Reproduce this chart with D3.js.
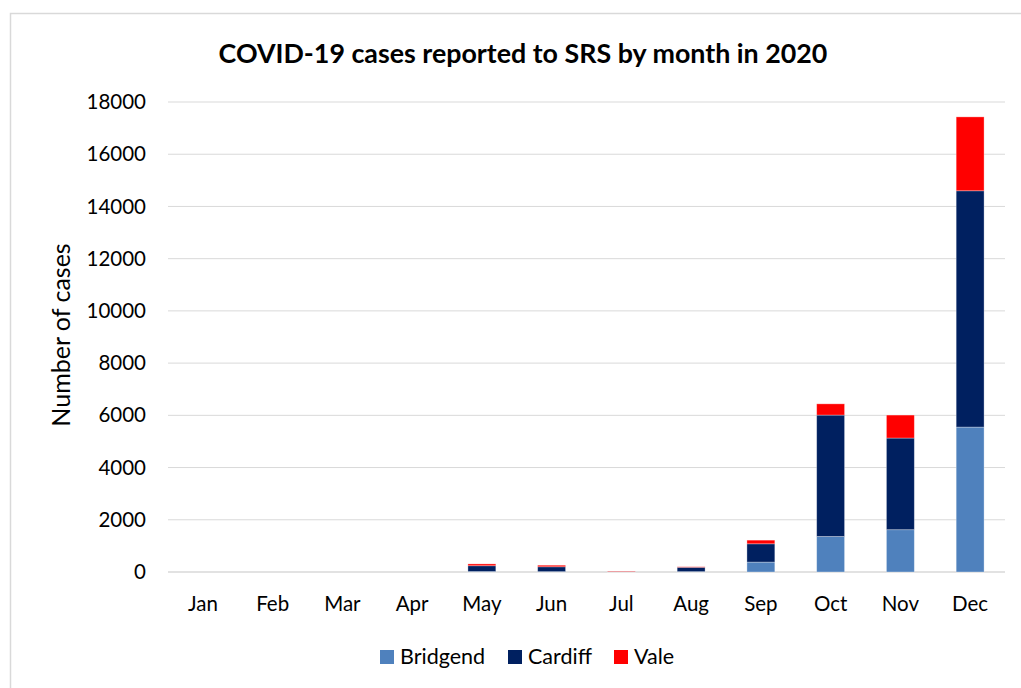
<!DOCTYPE html>
<html>
<head>
<meta charset="utf-8">
<script src="https://cdn.jsdelivr.net/npm/d3@7"></script>
<style>
  body { margin: 0; background: #fff; }
  text { font-family: Lato, "Open Sans", sans-serif; fill: #000; }
</style>
</head>
<body>
<svg width="1021" height="688"></svg>
<script>
const months = ["Jan", "Feb", "Mar", "Apr", "May", "Jun", "Jul", "Aug", "Sep", "Oct", "Nov", "Dec"];
const bridgend = [0, 0, 0, 0, 20, 15, 5, 15, 380, 1360, 1620, 5550];
const cardiff = [0, 0, 0, 0, 220, 185, 10, 165, 700, 4650, 3510, 9050];
const vale = [0, 0, 0, 0, 70, 60, 20, 20, 140, 430, 880, 2830];
const seriesNames = ["Bridgend", "Cardiff", "Vale"];
const colors = ["#4f81bd", "#002060", "#ff0000"];
const yTicks = [0, 2000, 4000, 6000, 8000, 10000, 12000, 14000, 16000, 18000];

let svg = d3.select("svg");

// chart frame
svg.append("rect")
    .attr("x", 10.5).attr("y", 13.5)
    .attr("width", 1030).attr("height", 700)
    .attr("fill", "none")
    .attr("stroke", "#d9d9d9")
    .attr("stroke-width", 1.5);

let plotLeft = 168, plotRight = 1005, plotTop = 102, plotBottom = 572;

let x = d3.scaleBand().domain(months).range([plotLeft, plotRight])
    .paddingInner(0.6).paddingOuter(0.3);
let y = d3.scaleLinear().domain([0, 18000]).range([plotBottom, plotTop]);

// gridlines
svg.append("g")
    .selectAll("line")
    .data(yTicks)
    .enter().append("line")
    .attr("x1", plotLeft).attr("x2", plotRight)
    .attr("y1", d => y(d)).attr("y2", d => y(d))
    .attr("stroke", "#d9d9d9")
    .attr("stroke-width", d => d === 0 ? 1.5 : 1);

// y axis labels
let yAxis = svg.append("g")
    .attr("transform", "translate(" + (plotLeft - 22) + ",0)")
    .call(d3.axisLeft(y).tickValues(yTicks).tickFormat(d3.format("d")).tickSize(0).tickPadding(0));
yAxis.select(".domain").remove();
yAxis.selectAll("text")
    .style("font-size", "20.5px")
    .style("font-family", "Lato, sans-serif");

// x axis labels
let xAxis = svg.append("g")
    .attr("transform", "translate(0," + (plotBottom + 21) + ")")
    .call(d3.axisBottom(x).tickSize(0).tickPadding(3));
xAxis.select(".domain").remove();
xAxis.selectAll("text")
    .style("font-size", "20.5px")
    .style("font-family", "Lato, sans-serif");

// stacked bars
let table = months.map((m, i) => ({month: m, Bridgend: bridgend[i], Cardiff: cardiff[i], Vale: vale[i]}));
let stack = d3.stack().keys(seriesNames)(table);

svg.append("g")
    .selectAll("g")
    .data(stack)
    .enter().append("g")
    .attr("fill", (d, i) => colors[i])
    .selectAll("rect")
    .data(d => d)
    .enter().append("rect")
    .attr("x", d => x(d.data.month))
    .attr("width", x.bandwidth())
    .attr("y", d => y(d[1]))
    .attr("height", d => y(d[0]) - y(d[1]))
    .attr("stroke", "#ffffff")
    .attr("stroke-opacity", 0.4)
    .attr("stroke-width", 0.8);

// title
svg.append("text")
    .attr("x", 523).attr("y", 63)
    .attr("text-anchor", "middle")
    .style("font-size", "26.8px")
    .style("font-weight", "bold")
    .text("COVID-19 cases reported to SRS by month in 2020");

// y axis title
svg.append("text")
    .attr("transform", "translate(70,335) rotate(-90)")
    .attr("text-anchor", "middle")
    .style("font-size", "25px")
    .text("Number of cases");

// legend
let legendX = [380, 508, 614];
let legend = svg.append("g")
    .selectAll("g")
    .data(seriesNames)
    .enter().append("g")
    .attr("transform", (d, i) => "translate(" + legendX[i] + ",650)");
legend.append("rect")
    .attr("width", 14).attr("height", 14)
    .attr("fill", (d, i) => colors[i]);
legend.append("text")
    .attr("x", 20).attr("y", 14)
    .style("font-size", "21.5px")
    .text(d => d);
</script>
</body>
</html>
